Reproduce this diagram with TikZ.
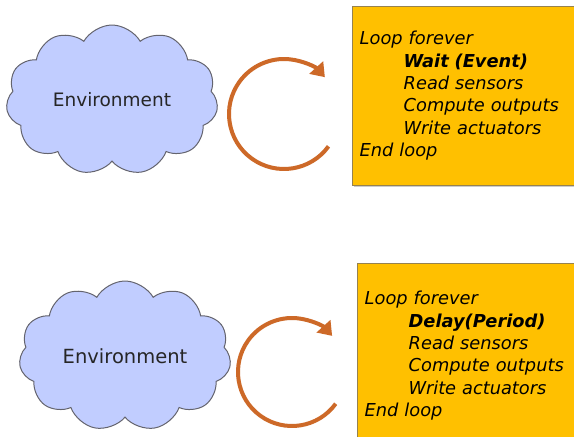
\documentclass[tikz,border=0pt]{standalone}
\usepackage{fontspec}
\setsansfont{DejaVu Sans}
\usetikzlibrary{shapes.symbols,shadows,arrows.meta}

\definecolor{cloudblue}{RGB}{193,205,255}
\definecolor{cloudline}{RGB}{100,100,110}
\definecolor{boxgold}{RGB}{255,192,0}
\definecolor{boxline}{RGB}{150,130,80}
\definecolor{looporange}{RGB}{205,105,40}

\tikzset{
  env/.style={cloud, cloud puffs=11, cloud puff arc=120, aspect=1.4, draw=cloudline, fill=cloudblue,
    line width=1pt, minimum width=212pt, minimum height=150pt, inner sep=0pt,
    font=\sffamily\fontsize{18.5}{20}\selectfont, text=black!85},
  codebox/.style={draw=boxline, fill=boxgold, anchor=north west, align=left,
    minimum width=240pt, text width=225pt, inner xsep=4pt,
    drop shadow={shadow xshift=1.5pt, shadow yshift=-1.5pt, opacity=.4},
    font=\sffamily\itshape\fontsize{17.8}{22.4}\selectfont},
  loop/.style={looporange, line width=4pt, -{Triangle[length=13pt,width=18pt]}}
}
\newcommand{\ind}{\hspace*{44pt}}

\begin{document}
\begin{tikzpicture}[x=1pt,y=-1pt]
\clip (0,0) rectangle (574,437);
\fill[white] (0,0) rectangle (574,437);

% event driven
\node[env] (env1) at (112,100) {Environment};
\coordinate (loop1) at (284,114);
\draw[loop] ([shift={(36:55)}]loop1) arc[start angle=36, end angle=318, radius=55];
\node[codebox, minimum height=179pt] (code1) at (352,6) {Loop forever\\
\ind\textbf{Wait (Event)}\\
\ind Read sensors\\
\ind Compute outputs\\
\ind Write actuators\\
End loop};

% periodic
\node[env, font=\sffamily\fontsize{19.5}{21}\selectfont] (env2) at (125,356) {Environment};
\coordinate (loop2) at (292,372);
\draw[loop] ([shift={(36:54)}]loop2) arc[start angle=36, end angle=318, radius=54];
\node[codebox, minimum height=185pt] (code2) at (357,263) {Loop forever\\
\ind\textbf{Delay(Period)}\\
\ind Read sensors\\
\ind Compute outputs\\
\ind Write actuators\\
End loop};
\end{tikzpicture}
\end{document}
